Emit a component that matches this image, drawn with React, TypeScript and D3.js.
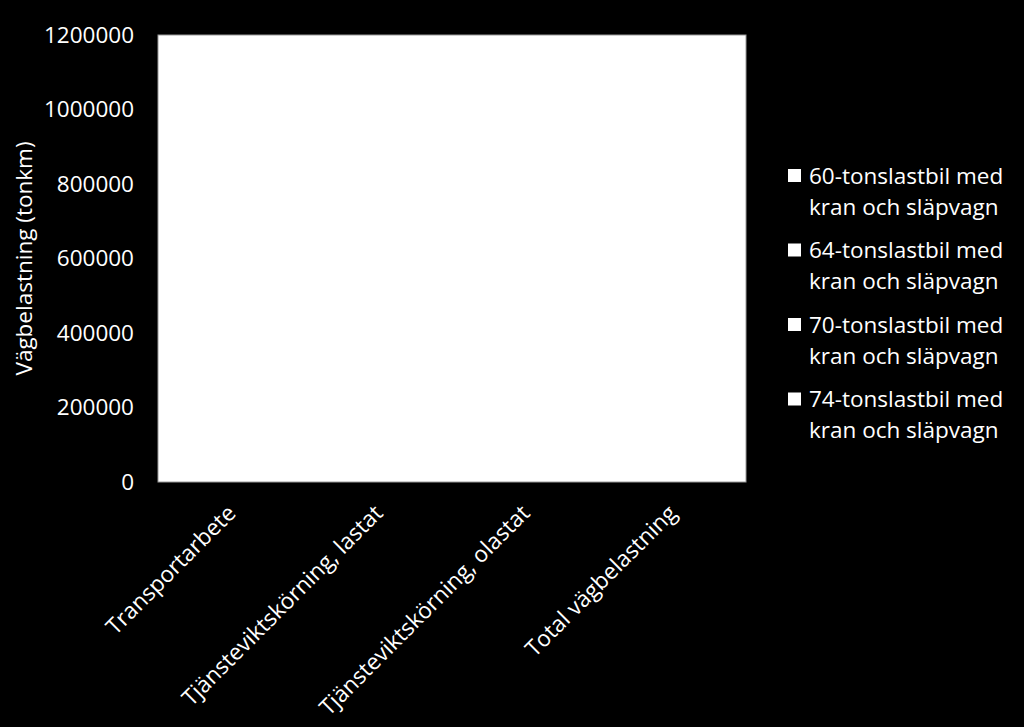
import React from "react";
import * as d3 from "d3";

// Categories on the x axis
const categories = [
  "Transportarbete",
  "Tjänsteviktskörning, lastat",
  "Tjänsteviktskörning, olastat",
  "Total vägbelastning",
];

// Series (legend entries). Bars are white on a white plot area in the reference,
// so their heights cannot be seen; values below are rough estimates.
const seriesNames = [
  "60-tonslastbil med kran och släpvagn",
  "64-tonslastbil med kran och släpvagn",
  "70-tonslastbil med kran och släpvagn",
  "74-tonslastbil med kran och släpvagn",
];
const series60 = [520000, 190000, 150000, 860000];
const series64 = [490000, 185000, 140000, 815000];
const series70 = [450000, 175000, 130000, 755000];
const series74 = [430000, 170000, 125000, 725000];
const seriesValues = [series60, series64, series70, series74];

const yTicks = [0, 200000, 400000, 600000, 800000, 1000000, 1200000];
const yTitle = "Vägbelastning (tonkm)";

const W = 1024;
const H = 727;
const FONT = "'Open Sans', 'Noto Sans', sans-serif";

export default function App() {
  const plot = { left: 158, right: 746, top: 35, bottom: 482 };

  const x0 = d3
    .scaleBand<string>()
    .domain(categories)
    .range([plot.left, plot.right])
    .paddingInner(0.3)
    .paddingOuter(0.15);
  const xCenter = d3
    .scaleBand<string>()
    .domain(categories)
    .range([plot.left, plot.right]);
  const x1 = d3
    .scaleBand<number>()
    .domain(seriesNames.map((_, i) => i))
    .range([0, x0.bandwidth()]);
  const y = d3
    .scaleLinear()
    .domain([0, 1200000])
    .range([plot.bottom, plot.top]);

  const legendX = 788;
  const legendTop = 183.5; // baseline of first line
  const legendStep = 74.5;
  const lineH = 31;

  return (
    <svg
      width={W}
      height={H}
      style={{ position: "fixed", left: 0, top: 0, background: "#000" }}
      fontFamily={FONT}
    >
      <rect x={0} y={0} width={W} height={H} fill="#000" />
      {/* plot area */}
      <rect
        x={plot.left}
        y={plot.top}
        width={plot.right - plot.left}
        height={plot.bottom - plot.top}
        fill="#fff"
      />
      {/* bars (white, as in the reference) */}
      {categories.map((c, ci) => (
        <g key={c} transform={`translate(${x0(c)},0)`}>
          {seriesValues.map((vals, si) => (
            <rect
              key={si}
              x={x1(si)}
              y={y(vals[ci])}
              width={x1.bandwidth()}
              height={y(0) - y(vals[ci])}
              fill="#ffffff"
            />
          ))}
        </g>
      ))}
      {/* plot border */}
      <rect
        x={plot.left}
        y={plot.top}
        width={plot.right - plot.left}
        height={plot.bottom - plot.top}
        fill="none"
        stroke="#9a9a9a"
        strokeWidth={1}
      />
      {/* y tick labels */}
      {yTicks.map((t) => (
        <text
          key={t}
          x={134}
          y={y(t)}
          dy="0.35em"
          textAnchor="end"
          fill="#fff"
          fontSize={22.5}
        >
          {t}
        </text>
      ))}
      {/* y axis title */}
      <text
        transform={`translate(24,${(plot.top + plot.bottom) / 2}) rotate(-90)`}
        textAnchor="middle"
        dy="0.35em"
        fill="#fff"
        fontSize={22.5}
      >
        {yTitle}
      </text>
      {/* x labels */}
      {categories.map((c) => {
        const cx = (xCenter(c) as number) + xCenter.bandwidth() / 2;
        return (
          <text
            key={c}
            transform={`translate(${cx},${509}) rotate(-45)`}
            textAnchor="end"
            dy="0.35em"
            fill="#fff"
            fontSize={22.5}
          >
            {c}
          </text>
        );
      })}
      {/* legend */}
      {seriesNames.map((name, i) => {
        const base = legendTop + i * legendStep;
        const words = name.split(" ");
        const line1 = words.slice(0, 2).join(" ");
        const line2 = words.slice(2).join(" ");
        return (
          <g key={name}>
            <rect x={legendX} y={base - 14.5} width={13} height={13} fill="#fff" />
            <text x={809} y={base} fill="#fff" fontSize={22.5}>
              {line1}
            </text>
            <text x={809} y={base + lineH} fill="#fff" fontSize={22.5}>
              {line2}
            </text>
          </g>
        );
      })}
    </svg>
  );
}
